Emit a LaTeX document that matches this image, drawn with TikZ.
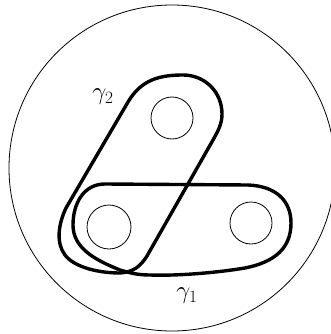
\documentclass[tikz,border=0pt]{standalone}
\begin{document}
\begin{tikzpicture}[x=1pt,y=-1pt,
  hole/.style={draw,circle,line width=0.8pt,inner sep=0pt},
  loopline/.style={line width=3.4pt,line join=round},
  lbl/.style={inner sep=0pt,font=\fontsize{23}{27}\selectfont}]
\useasboundingbox (0,0) rectangle (331,334);
\draw[line width=0.8pt] (172,168) circle[radius=163];
\node[hole,minimum size=42pt] (top) at (172,118) {};
\node[hole,minimum size=44pt] (left) at (109,227) {};
\node[hole,minimum size=42pt] (right) at (251,223) {};
% gamma 1
\draw[loopline] (105,184) -- (248,185)
  .. controls (275,186) and (291,200) .. (291,223)
  .. controls (291,248) and (275,262) .. (245,268)
  .. controls (215,273) and (175,276) .. (150,275)
  .. controls (138,275) and (130,273) .. (120,270)
  .. controls (95,260) and (73,248) .. (73,225)
  .. controls (73,203) and (84,184) .. (105,184) -- cycle;
% gamma 2
\draw[loopline] (128,102)
  .. controls (141,80) and (159,75) .. (183,75)
  .. controls (205,75) and (222,92) .. (222,114)
  .. controls (222,124) and (218,131) .. (213,140)
  -- (147,256)
  .. controls (140,267) and (133,272) .. (120,273)
  .. controls (100,273) and (75,268) .. (65,255)
  .. controls (56,243) and (58,225) .. (66,208)
  -- cycle;
\node[lbl] (g2) at (103,97) {$\gamma_2$};
\node[lbl] (g1) at (187,296) {$\gamma_1$};
\end{tikzpicture}
\end{document}
